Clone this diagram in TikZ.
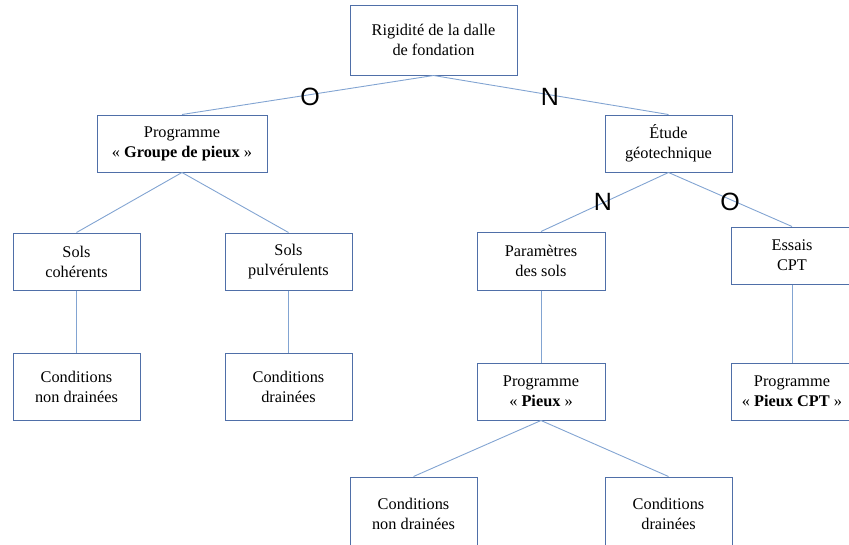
\documentclass[tikz,border=0pt]{standalone}
\usepackage{fontspec}
\setmainfont{Liberation Serif}
\newfontfamily\lblfont{Liberation Sans}
\definecolor{boxc}{RGB}{79,111,168}
\definecolor{linec}{RGB}{130,164,210}
\begin{document}
\begin{tikzpicture}[x=1pt,y=-1pt,
  box/.style={draw=boxc, line width=1.0pt, align=center, inner sep=0pt, font=\fontsize{16.3}{20}\selectfont, text=black},
  conn/.style={draw=linec, line width=0.9pt},
  yn/.style={font=\lblfont\fontsize{25}{25}\selectfont, inner sep=0pt, text=black}]
\useasboundingbox (0,0) rectangle (849,544);
\node[box, minimum width=167pt, minimum height=70pt] (top) at (433.5,40) {Rigidité de la dalle\\de fondation};
\node[box, minimum width=170pt, minimum height=57pt] (grp) at (182,143.5) {Programme\\« \textbf{Groupe de pieux} »};
\node[box, minimum width=127pt, minimum height=57pt] (etu) at (668.5,143.5) {Étude\\géotechnique};
\node[box, minimum width=127pt, minimum height=57pt] (coh) at (76.5,261.5) {Sols\\cohérents};
\node[box, minimum width=127pt, minimum height=57pt] (pul) at (288.5,261.5) {Sols\\pulvérulents};
\node[box, minimum width=128pt, minimum height=58pt] (par) at (541,261) {Paramètres\\des sols};
\node[box, minimum width=122pt, minimum height=57pt] (ess) at (792,255.5) {Essais\\CPT};
\node[box, minimum width=127pt, minimum height=67pt] (cnd1) at (76.5,386.5) {Conditions\\non drainées};
\node[box, minimum width=127pt, minimum height=67pt] (cd1) at (288.5,386.5) {Conditions\\drainées};
\node[box, minimum width=128pt, minimum height=57pt] (ppi) at (541,391.5) {Programme\\« \textbf{Pieux} »};
\node[box, minimum width=122pt, minimum height=57pt] (pcpt) at (792,391.5) {Programme\\« \textbf{Pieux CPT} »};
\node[box, minimum width=127pt, minimum height=73pt] (cnd2) at (413.5,513.5) {Conditions\\non drainées};
\node[box, minimum width=127pt, minimum height=73pt] (cd2) at (668.5,513.5) {Conditions\\drainées};
\draw[conn] (top.south) -- (grp.north);
\draw[conn] (top.south) -- (etu.north);
\draw[conn] (grp.south) -- (coh.north);
\draw[conn] (grp.south) -- (pul.north);
\draw[conn] (etu.south) -- (par.north);
\draw[conn] (etu.south) -- (ess.north);
\draw[conn] (coh.south) -- (cnd1.north);
\draw[conn] (pul.south) -- (cd1.north);
\draw[conn] (par.south) -- (ppi.north);
\draw[conn] (ess.south) -- (pcpt.north);
\draw[conn] (ppi.south) -- (cnd2.north);
\draw[conn] (ppi.south) -- (cd2.north);
\node[yn] (o1) at (310,97) {O};
\node[yn] (n1) at (550,97) {N};
\node[yn] (n2) at (603,202) {N};
\node[yn] (o2) at (730,202) {O};
\end{tikzpicture}
\end{document}
